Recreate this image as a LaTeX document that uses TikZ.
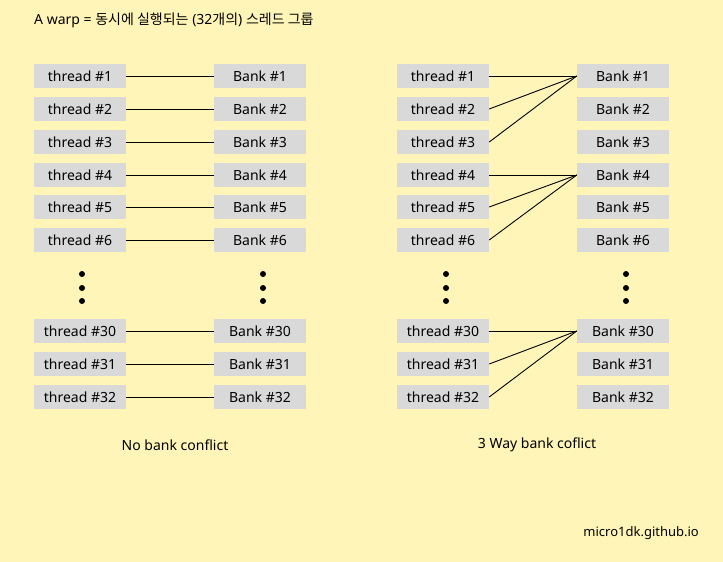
\documentclass[tikz,border=0pt]{standalone}
\usepackage{fontspec}
\setmainfont{Noto Sans}
\newfontfamily\krfont{Noto Sans CJK KR}
\usetikzlibrary{positioning}
\definecolor{bgyellow}{HTML}{FFF5B8}
\definecolor{boxgray}{HTML}{D9D9D9}

\begin{document}
\begin{tikzpicture}[x=1pt,y=-1pt,
box/.style={fill=boxgray,minimum width=92pt,minimum height=24pt,inner sep=0pt,
  font=\fontsize{14}{16}\selectfont},
link/.style={draw,line width=0.9pt},
vdot/.style={circle,fill=black,inner sep=0pt,minimum size=6pt},
caption/.style={font=\fontsize{14}{16}\selectfont}]
\fill[bgyellow] (0,0) rectangle (723,562);
\node[caption,anchor=west,inner sep=0pt] (title) at (34,20)
  {A warp = {\krfont 동시에 실행되는} (32{\krfont 개의}) {\krfont 스레드 그룹}};
% left: no conflict
\foreach \n/\y in {1/76,2/109,3/142,4/175,5/207,6/240,30/331,31/364,32/397} {
  \node[box] (tl\n) at (80,\y) {thread \#\n};
  \node[box] (bl\n) at (260,\y) {Bank \#\n};
  \draw[link] (tl\n.east) -- (bl\n.west);
}
% right: 3 way conflict
\foreach \n/\y in {1/76,2/109,3/142,4/175,5/207,6/240,30/331,31/364,32/397} {
  \node[box] (tr\n) at (443,\y) {thread \#\n};
  \node[box] (br\n) at (623,\y) {Bank \#\n};
}
\foreach \t/\b in {1/1,2/1,3/1,4/4,5/4,6/4,30/30,31/30,32/30}
  \draw[link] (tr\t.east) -- (br\b.west);
% dots
\foreach \x/\s in {82/a,263/b,446/c,626/d}
  \foreach \y/\k in {274/1,288/2,301/3}
    \node[vdot] (dot\s\k) at (\x,\y) {};
\node[caption] (capl) at (175,445) {No bank conflict};
\node[caption] (capr) at (537,445) {3 Way bank coflict};
\node[anchor=east,inner sep=0pt,font=\fontsize{13}{15}\selectfont] (site) at (699,533) {micro1dk.github.io};
\end{tikzpicture}
\end{document}
